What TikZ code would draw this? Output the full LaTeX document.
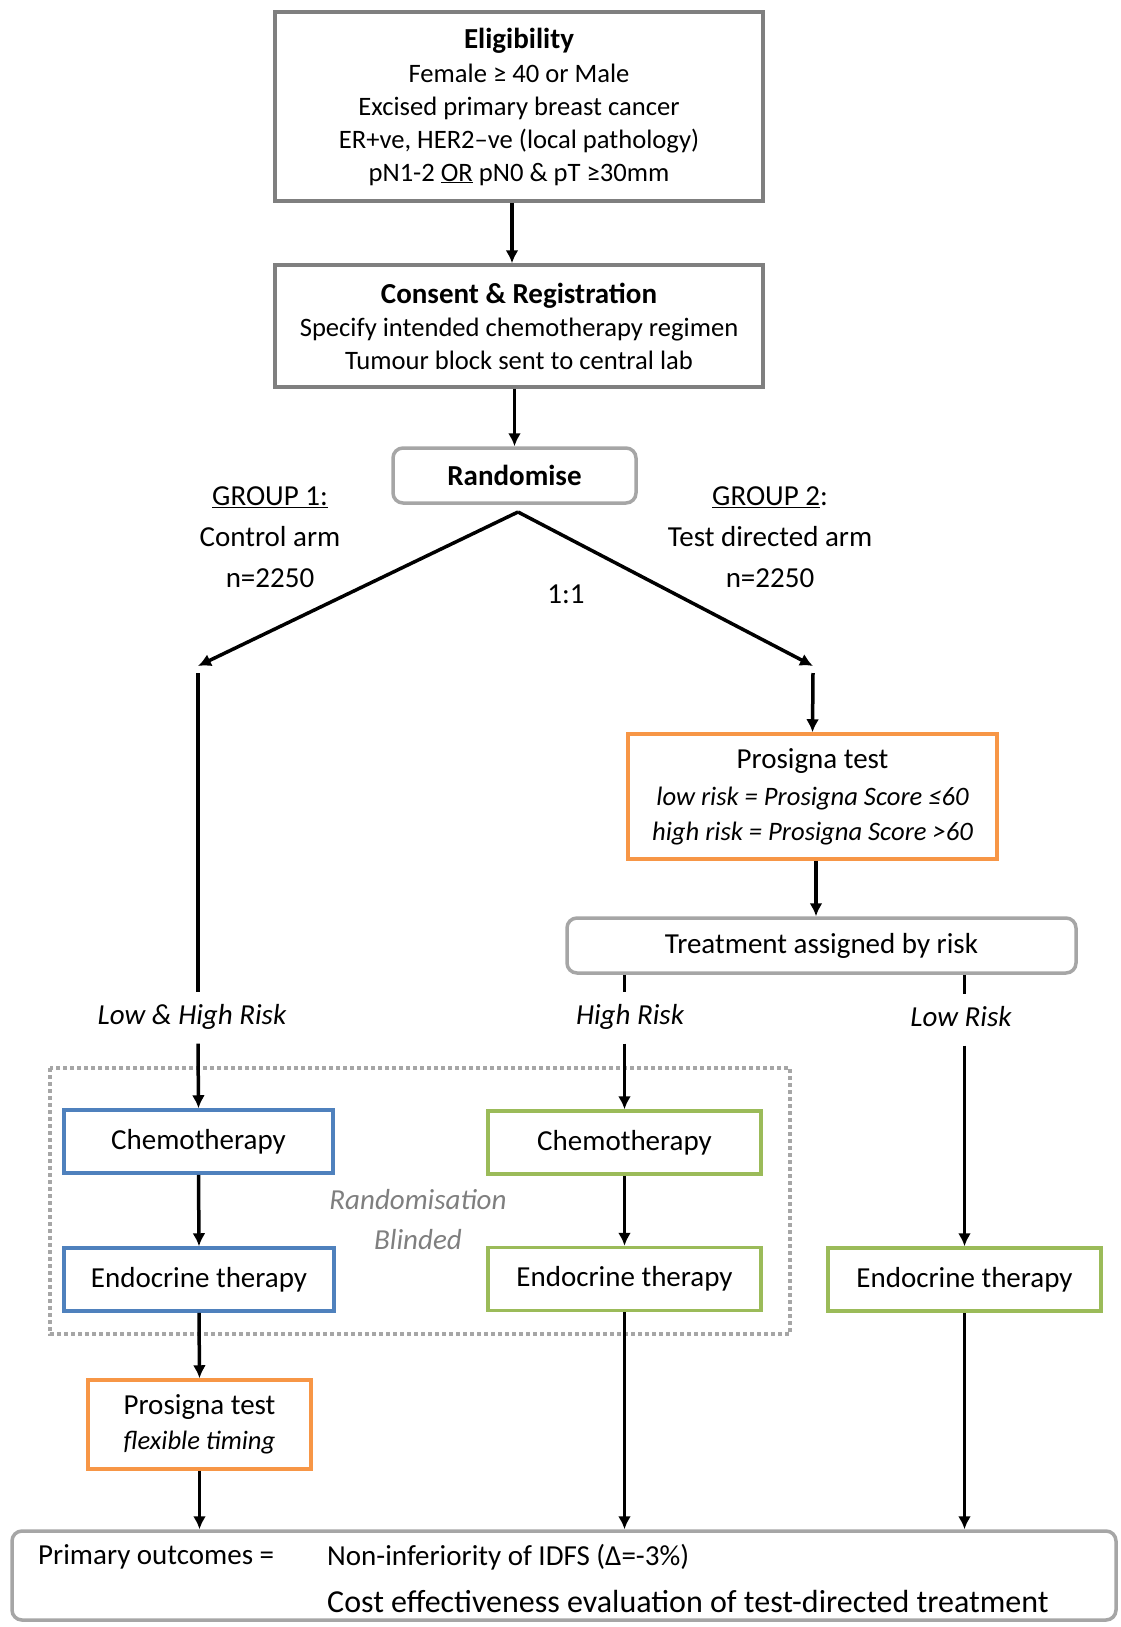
\documentclass[tikz,border=0pt]{standalone}
\usepackage{fontspec}
\setmainfont{Carlito}
\usetikzlibrary{arrows.meta}
\definecolor{boxgrey}{HTML}{7F7F7F}
\definecolor{lightgrey}{HTML}{A6A6A6}
\definecolor{armblue}{HTML}{4F81BD}
\definecolor{armgreen}{HTML}{9BBB59}
\definecolor{testorange}{HTML}{F79646}
\newcommand{\mainsize}{\fontsize{29}{35}\selectfont}
\newcommand{\subsize}{\fontsize{26.6}{33}\selectfont}

\begin{document}
\begin{tikzpicture}[%
      x=1pt,y=-1pt,
      box/.style={draw, line width=3.5pt, fill=white, align=center, inner sep=0pt},
      greybox/.style={box, draw=boxgrey, font=\subsize},
      roundbox/.style={box, draw=lightgrey, rounded corners=10pt, font=\mainsize},
      bluebox/.style={box, draw=armblue, font=\mainsize, minimum height=63pt},
      greenbox/.style={box, draw=armgreen, font=\mainsize, minimum height=63pt},
      orangebox/.style={box, draw=testorange, font=\mainsize},
      risklabel/.style={font=\mainsize\itshape, text height=20pt, text depth=7pt, inner sep=12pt},
      grouplabel/.style={font=\fontsize{29}{41}\selectfont, align=center},
      outtext/.style={font=\mainsize, anchor=west, inner sep=0pt},
      arr/.style={line width=3.5pt, -{Latex[length=13pt,width=13pt]}},
      armline/.style={line width=3.5pt},
      ]
      \useasboundingbox (0,0) rectangle (1120,1627);

      \draw [lightgrey, line width=4pt, dash pattern=on 4pt off 3pt] (50,1068) rectangle (790,1334);

      \node [greybox, minimum width=488pt, minimum height=189pt] (elig) at (519,106.5)
            {{\mainsize\bfseries Eligibility}\\[1pt] Female ≥ 40 or Male\\ Excised primary breast cancer\\
             ER+ve, HER2–ve (local pathology)\\ pN1-2 \underline{OR} pN0 \& pT ≥30mm};
      \node [greybox, minimum width=488pt, minimum height=122pt] (consent) at (519,326)
            {{\mainsize\bfseries Consent \& Registration}\\ Specify intended chemotherapy regimen\\
             Tumour block sent to central lab};
      \node [roundbox, minimum width=243pt, minimum height=55pt, font=\mainsize\bfseries] (rand) at (514.5,475.5) {Randomise};

      \node [grouplabel] (group1) at (270,537) {\underline{GROUP 1:}\\ Control arm\\ n=2250};
      \node [grouplabel] (group2) at (770,537) {\underline{GROUP 2}:\\ Test directed arm\\ n=2250};
      \node [font=\mainsize] (ratio) at (566,594) {1:1};

      \coordinate (split) at (518,512);
      \coordinate (lcorner) at (198,666);
      \coordinate (rcorner) at (813,666);

      \node [orangebox, minimum width=369pt, minimum height=125pt] (prosA) at (812.5,796.5)
            {Prosigna test\\[2pt] {\subsize\itshape low risk = Prosigna Score ≤60}\\
             {\subsize\itshape high risk = Prosigna Score >60}};
      \node [roundbox, minimum width=509pt, minimum height=55pt] (assign) at (821.5,945.5) {Treatment assigned by risk};

      \node [risklabel] (lowhigh) at (192,1018) {Low \& High Risk};
      \node [risklabel] (highlbl) at (630,1018) {High Risk};
      \node [risklabel] (lowlbl) at (961,1020) {Low Risk};

      \node [bluebox, minimum width=269pt] (chemoA) at (198.5,1141.5) {Chemotherapy};
      \node [bluebox, minimum width=270pt] (endoA) at (199,1279.5) {Endocrine therapy};
      \node [greenbox, minimum width=273pt] (chemoB) at (624.5,1142.5) {Chemotherapy};
      \node [greenbox, minimum width=273pt] (endoB) at (624.5,1279) {Endocrine therapy};
      \node [greenbox, minimum width=273pt] (endoC) at (964.5,1279.5) {Endocrine therapy};
      \node [font=\fontsize{29}{40}\selectfont\itshape, text=boxgrey, align=center] (blinded) at (418,1220)
            {Randomisation\\ Blinded};

      \node [orangebox, minimum width=223pt, minimum height=89pt] (prosB) at (199.5,1424.5)
            {Prosigna test\\ {\subsize\itshape flexible timing}};
      \node [roundbox, minimum width=1104pt, minimum height=89pt] (outcome) at (564,1575.5) {};
      \node [outtext] (primary) at (38,1557) {Primary outcomes =};
      \node [outtext] (idfs) at (327,1557) {Non-inferiority of IDFS (Δ=-3\%)};
      \node [outtext, font=\fontsize{32}{38}\selectfont] (cost) at (327,1601) {Cost effectiveness evaluation of test-directed treatment};

      \draw [arr] ([xshift=-7pt]elig.south) -- ([xshift=-7pt]consent.north);
      \draw [arr] (rand.north |- consent.south) -- (rand.north);
      \draw [arr] (split) -- (lcorner);
      \draw [arr] (split) -- (rcorner);

      \draw [armline] ([yshift=-7pt]lcorner) -- (lcorner |- lowhigh.north);
      \draw [arr] (lcorner |- lowhigh.south) -- (chemoA.north);
      \draw [arr] ([yshift=-7pt]rcorner) -- (prosA.north);
      \draw [arr] ([xshift=3.5pt]prosA.south) -- ([xshift=3.5pt]prosA.south |- assign.north);

      \draw [armline] (chemoB.north |- assign.south) -- (chemoB.north |- highlbl.north);
      \draw [arr] (chemoB.north |- highlbl.south) -- (chemoB.north);
      \draw [armline] (endoC.north |- assign.south) -- (endoC.north |- lowlbl.north);
      \draw [arr] (endoC.north |- lowlbl.south) -- (endoC.north);

      \draw [arr] (chemoA.south) -- (endoA.north);
      \draw [arr] (endoA.south) -- (prosB.north);
      \draw [arr] (chemoB.south) -- (endoB.north);
      \draw [arr] (prosB.south) -- (prosB.south |- outcome.north);
      \draw [arr] (endoB.south) -- (endoB.south |- outcome.north);
      \draw [arr] (endoC.south) -- (endoC.south |- outcome.north);
      \end{tikzpicture}
\end{document}
